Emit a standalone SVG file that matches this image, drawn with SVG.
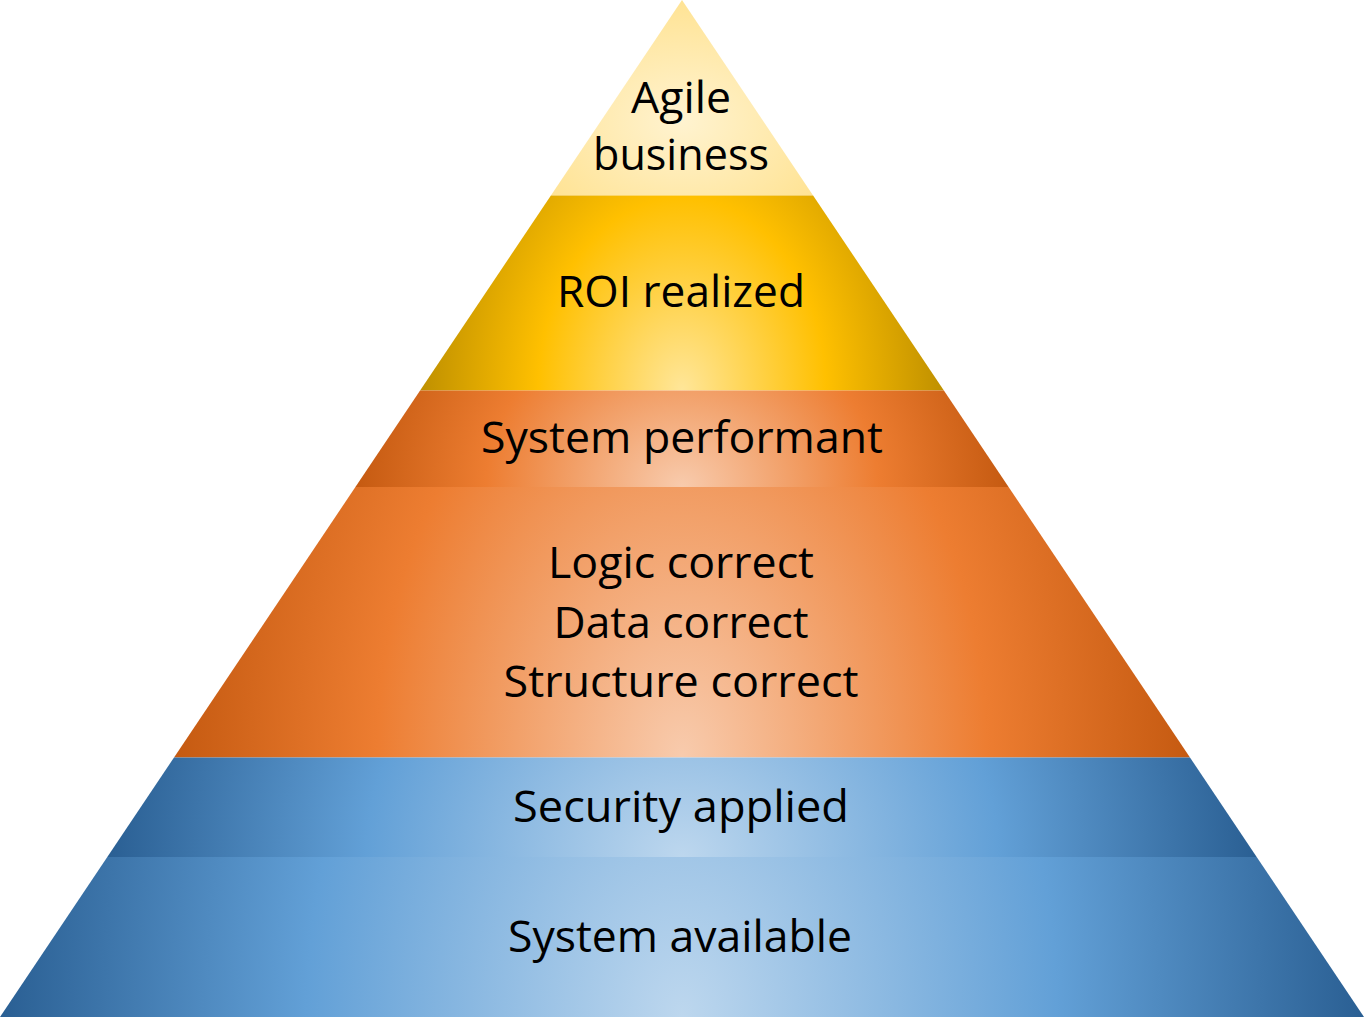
<svg xmlns="http://www.w3.org/2000/svg" width="1364" height="1017" viewBox="0 0 1364 1017">
  <style>
    .lbl { font-family: "Open Sans", "Noto Sans", "Liberation Sans", sans-serif; font-size: 44px; fill: #000000; text-anchor: middle; }
  </style>
  <defs>
    <radialGradient id="gTop" cx="0.5" cy="0.62" r="0.62">
      <stop offset="0" stop-color="#FFF3D0"/>
      <stop offset="1" stop-color="#FFE394"/>
    </radialGradient>
    <radialGradient id="gGold" cx="0.5" cy="1" r="0.5" gradientTransform="translate(0.5 1) scale(1 3.6) translate(-0.5 -1)">
      <stop offset="0" stop-color="#FFE699"/>
      <stop offset="0.55" stop-color="#FFC000"/>
      <stop offset="1" stop-color="#BF9000"/>
    </radialGradient>
    <radialGradient id="gOrangeA" cx="0.5" cy="1" r="0.5" gradientTransform="translate(0.5 1) scale(1 6) translate(-0.5 -1)">
      <stop offset="0" stop-color="#F8CBAD"/>
      <stop offset="0.6" stop-color="#ED7D31"/>
      <stop offset="1" stop-color="#C55A11"/>
    </radialGradient>
    <radialGradient id="gOrangeB" cx="0.5" cy="1" r="0.5" gradientTransform="translate(0.5 1) scale(1 5.5) translate(-0.5 -1)">
      <stop offset="0" stop-color="#F8CBAD"/>
      <stop offset="0.6" stop-color="#ED7D31"/>
      <stop offset="1" stop-color="#C55A11"/>
    </radialGradient>
    <radialGradient id="gBlueA" cx="0.5" cy="1" r="0.5" gradientTransform="translate(0.5 1) scale(1 10) translate(-0.5 -1)">
      <stop offset="0" stop-color="#BDD7EE"/>
      <stop offset="0.55" stop-color="#62A0D7"/>
      <stop offset="1" stop-color="#2A5F93"/>
    </radialGradient>
    <radialGradient id="gBlueB" cx="0.5" cy="1" r="0.5" gradientTransform="translate(0.5 1) scale(1 12) translate(-0.5 -1)">
      <stop offset="0" stop-color="#BDD7EE"/>
      <stop offset="0.55" stop-color="#62A0D7"/>
      <stop offset="1" stop-color="#2A5F93"/>
    </radialGradient>
  </defs>

  <g id="layer-agile">
    <polygon points="682,0 813.1,195.5 550.9,195.5" fill="url(#gTop)"/>
    <text class="lbl" x="681" y="113" textLength="100" lengthAdjust="spacingAndGlyphs">Agile</text>
    <text class="lbl" x="681" y="170" textLength="176" lengthAdjust="spacingAndGlyphs">business</text>
  </g>

  <g id="layer-roi">
    <polygon points="550.9,195.5 813.1,195.5 943.9,390.5 420.1,390.5" fill="url(#gGold)"/>
    <text class="lbl" x="681" y="307" textLength="248" lengthAdjust="spacingAndGlyphs">ROI realized</text>
  </g>

  <g id="layer-performant">
    <polygon points="420.1,390.5 943.9,390.5 1008.6,487 355.4,487" fill="url(#gOrangeA)"/>
    <text class="lbl" x="682" y="453" textLength="402" lengthAdjust="spacingAndGlyphs">System performant</text>
  </g>

  <g id="layer-correct">
    <polygon points="355.4,487 1008.6,487 1190,757.5 174,757.5" fill="url(#gOrangeB)"/>
    <text class="lbl" x="681" y="578" textLength="266" lengthAdjust="spacingAndGlyphs">Logic correct</text>
    <text class="lbl" x="681" y="638" textLength="255" lengthAdjust="spacingAndGlyphs">Data correct</text>
    <text class="lbl" x="681" y="697" textLength="355" lengthAdjust="spacingAndGlyphs">Structure correct</text>
  </g>

  <g id="layer-security">
    <polygon points="174,757.5 1190,757.5 1256.7,857 107.3,857" fill="url(#gBlueA)"/>
    <text class="lbl" x="681" y="822" textLength="336" lengthAdjust="spacingAndGlyphs">Security applied</text>
  </g>

  <g id="layer-available">
    <polygon points="107.3,857 1256.7,857 1364,1017 0,1017" fill="url(#gBlueB)"/>
    <text class="lbl" x="680" y="952" textLength="344" lengthAdjust="spacingAndGlyphs">System available</text>
  </g>
</svg>
